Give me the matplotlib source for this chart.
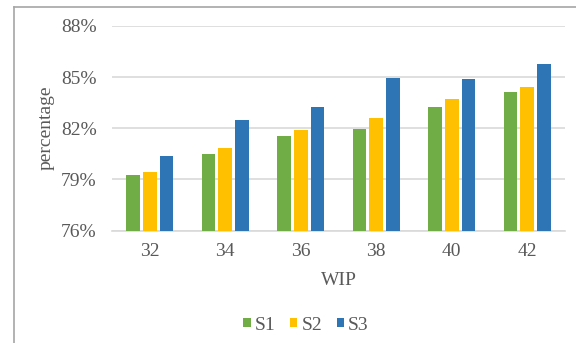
import numpy as np
import matplotlib.pyplot as plt
from matplotlib.lines import Line2D

plt.rcParams['font.family'] = ['Liberation Serif', 'DejaVu Serif']

wip = ['32', '34', '36', '38', '40', '42']
s1 = [79.25, 80.46, 81.52, 81.96, 83.25, 84.15]
s2 = [79.43, 80.85, 81.87, 82.59, 83.74, 84.41]
s3 = [80.36, 82.46, 83.22, 84.95, 84.89, 85.79]
series = ['S1', 'S2', 'S3']
colors = ['#70AD47', '#FFC000', '#2E75B6']
txt = '#595959'

fig = plt.figure(figsize=(5.76, 3.43), dpi=100)
ax = fig.add_axes([112/576, 1 - 230.5/343, (565-112)/576, (230.5-26)/343])

x = np.arange(len(wip))
step = 0.22
for k, (vals, c) in enumerate(zip([s1, s2, s3], colors)):
    ax.bar(x + (k - 1)*step, np.array(vals) - 76, bottom=76, width=0.18,
           color=c, label=series[k], zorder=3)

ax.set_xlim(-0.5, len(wip) - 0.5)
ax.set_ylim(76, 88)
ax.set_yticks([76, 79, 82, 85, 88])
ax.set_yticklabels(['76%', '79%', '82%', '85%', '88%'])
ax.set_xticks(x)
ax.set_xticklabels(wip)
ax.tick_params(length=0, labelsize=14, labelcolor=txt)
ax.tick_params(axis='y', pad=11)
ax.tick_params(axis='x', pad=9)
ax.grid(axis='y', color='#D9D9D9', linewidth=1.2, zorder=0)
for sp in ['top', 'right', 'left']:
    ax.spines[sp].set_visible(False)
ax.spines['bottom'].set_color('#D9D9D9')
ax.spines['bottom'].set_linewidth(1.2)

ax.set_xlabel('WIP', fontsize=14, color=txt)
ax.xaxis.set_label_coords(0.5, -(272 - 230.5)/204.5)
ax.set_ylabel('percentage', fontsize=14, color=txt)
ax.yaxis.set_label_coords(-(112 - 55)/453, 0.5)

fig.legend(loc='center', bbox_to_anchor=(306/576, 1 - 325/343), ncol=3,
           frameon=False, fontsize=14, labelcolor=txt, handlelength=0.38,
           handleheight=0.38, handletextpad=0.2, columnspacing=0.75)

# chart frame (left and top edges only)
fig.add_artist(Line2D([14/576, 14/576], [0, 1 - 7/343], color='#A6A6A6', lw=1.2))
fig.add_artist(Line2D([14/576, 1], [1 - 7/343, 1 - 7/343], color='#A6A6A6', lw=1.2))

fig.savefig('out.png', dpi=100)
